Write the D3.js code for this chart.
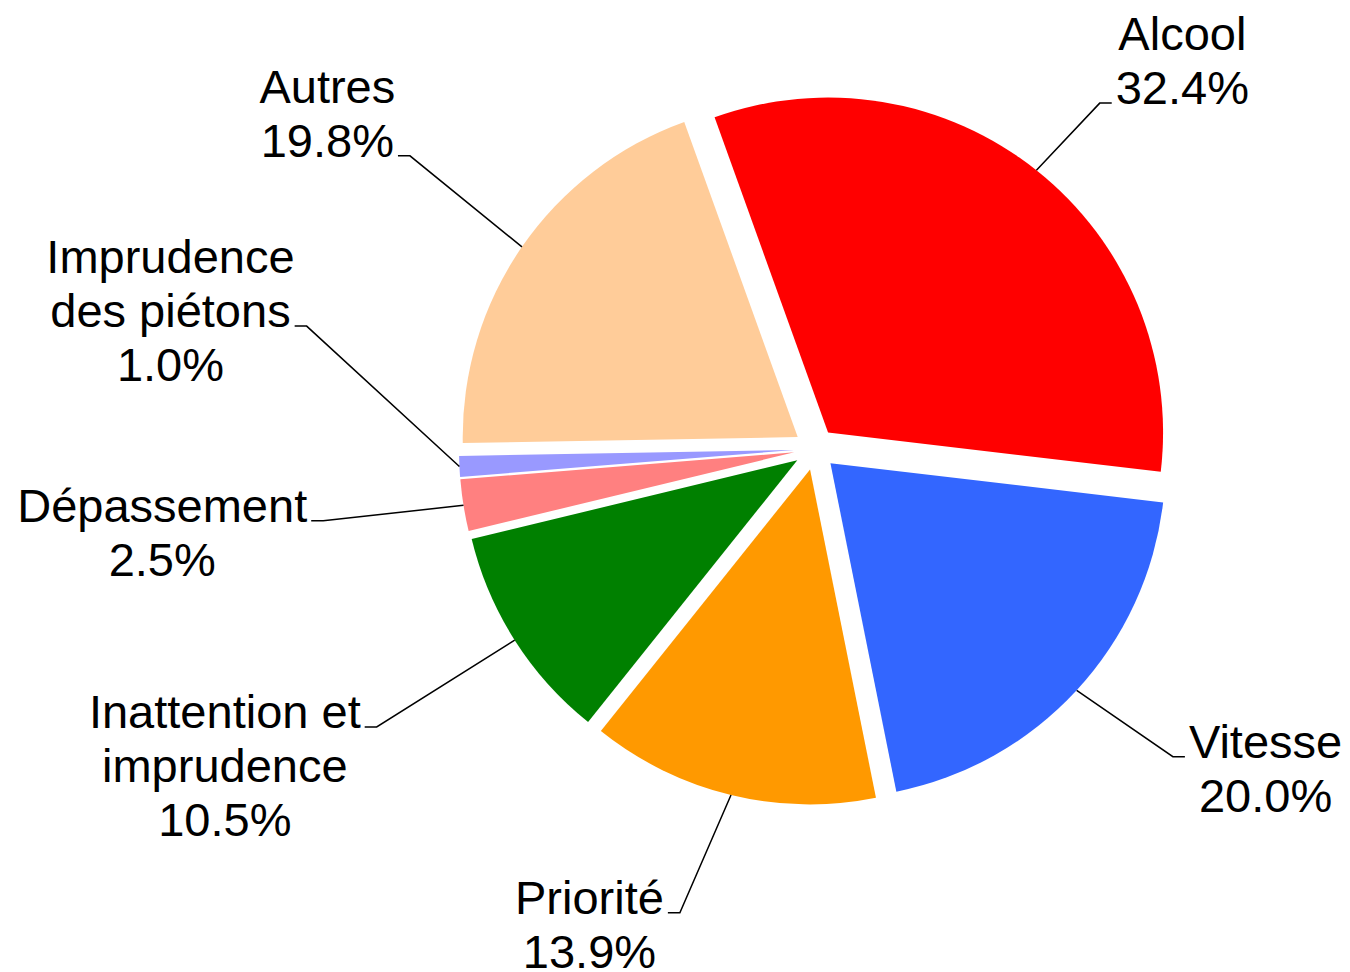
<!DOCTYPE html>
<html>
<head>
<meta charset="utf-8">
<script src="https://cdn.jsdelivr.net/npm/d3@7"></script>
<style>
  html, body { margin: 0; padding: 0; background: #fff; }
  svg { display: block; }
  text { font-family: "Liberation Sans", Arial, Helvetica, sans-serif; }
</style>
</head>
<body>
<div id="chart"></div>
<script>
// the data
var categories = ["Alcool", "Vitesse", "Priorité", "Inattention et imprudence", "Dépassement", "Imprudence des piétons", "Autres"]
var labelLines = [["Alcool"], ["Vitesse"], ["Priorité"], ["Inattention et", "imprudence"], ["Dépassement"], ["Imprudence", "des piétons"], ["Autres"]]
var values = [32.4, 20.0, 13.9, 10.5, 2.5, 1.0, 19.8]
var colors = ["#ff0000", "#3366ff", "#ff9900", "#008000", "#ff8080", "#9999ff", "#ffcc99"]

// layout
var width = 1350, height = 972
var cx = 815, cy = 449
var radius = 335, explode = 21
var startAngle = -19.8 * Math.PI / 180
var fontSize = 47, lineHeight = 54
var tailLen = 12, textGap = 4

// where each label sits: distance from centre and a small turn (degrees) from the slice middle
var labelPlace = {
    "Alcool": { r: 448, turn: 1.0 },
    "Vitesse": { r: 472, turn: -2.0 },
    "Priorité": { r: 483, turn: 2.6 },
    "Inattention et imprudence": { r: 519, turn: 0.1 },
    "Dépassement": { r: 497, turn: 0.8 },
    "Imprudence des piétons": { r: 523, turn: 16.4 },
    "Autres": { r: 500, turn: 1.3 }
}

var data = categories.map(function (c, i) {
    return { name: c, value: values[i], lines: labelLines[i], color: colors[i] }
})

var color = d3.scaleOrdinal()
    .domain(categories)
    .range(colors)

var svg = d3.select("#chart")
    .append("svg")
    .attr("width", width)
    .attr("height", height)

svg.append("rect")
    .attr("width", width)
    .attr("height", height)
    .attr("fill", "#fff")

var g = svg.append("g")
    .attr("transform", "translate(" + cx + "," + cy + ")")

var pie = d3.pie()
    .sort(null)
    .value(function (d) { return d.value })
    .startAngle(startAngle)
    .endAngle(startAngle + 2 * Math.PI)

var arc = d3.arc()
    .innerRadius(0)
    .outerRadius(radius)

var arcs = pie(data)

function midAngle(d) { return (d.startAngle + d.endAngle) / 2 }
function polar(r, a) { return [r * Math.sin(a), -r * Math.cos(a)] }

// slices, each pushed out along its middle
g.selectAll("path.slice")
    .data(arcs)
    .enter()
    .append("path")
    .attr("class", "slice")
    .attr("transform", function (d) {
        var p = polar(explode, midAngle(d))
        return "translate(" + p[0] + "," + p[1] + ")"
    })
    .attr("d", arc)
    .attr("fill", function (d) { return color(d.data.name) })

// labels with leader lines
var fmt = d3.format(".1f")
var lineGen = d3.line()

arcs.forEach(function (d) {
    var place = labelPlace[d.data.name]
    var a = midAngle(d)
    var la = a + place.turn * Math.PI / 180
    var start = polar(explode + radius, a)
    var elbow = polar(place.r, la)
    var side = Math.sin(la) >= 0 ? 1 : -1
    var tailEnd = [elbow[0] + side * tailLen, elbow[1]]

    g.append("path")
        .attr("d", lineGen([start, elbow, tailEnd]))
        .attr("fill", "none")
        .attr("stroke", "#000")
        .attr("stroke-width", 1.5)

    var lines = d.data.lines.concat([fmt(d.data.value) + "%"])
    var n = lines.length
    // which line the leader points at: bottom line for labels on top, top line for labels below
    var u = (1 + Math.cos(la)) / 2
    var k = Math.round(u * (n - 1))

    var txt = g.append("text")
        .attr("font-size", fontSize)
        .attr("fill", "#000")
        .attr("text-anchor", "middle")

    var spans = txt.selectAll("tspan")
        .data(lines)
        .enter()
        .append("tspan")
        .text(function (s) { return s })

    var w = spans.nodes()[k].getComputedTextLength()
    var centerX = tailEnd[0] + side * (textGap + w / 2)
    var baseY = elbow[1] + 1

    spans
        .attr("x", centerX)
        .attr("y", function (s, j) { return baseY + (j - k) * lineHeight })
})
</script>
</body>
</html>
